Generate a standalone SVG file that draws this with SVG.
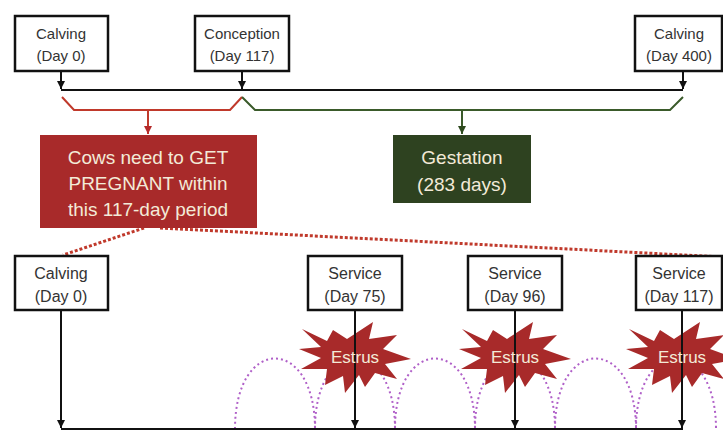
<svg xmlns="http://www.w3.org/2000/svg" width="723" height="431" viewBox="0 0 723 431">
<defs>
<style>
.box{fill:#fff;stroke:#111;stroke-width:2.5}
.bt{font-family:"Liberation Sans",Arial,sans-serif;fill:#333;text-anchor:middle}
.wt{font-family:"Liberation Sans",Arial,sans-serif;fill:#f3ead8;text-anchor:middle}
.ln{stroke:#111;stroke-width:2;fill:none}
.arc{stroke:#b060c8;stroke-width:2;fill:none;stroke-dasharray:2 3}
.star{fill:#a82a2a}
</style>
<marker id="ah" viewBox="0 0 8 8" refX="4" refY="8" markerWidth="8" markerHeight="8" markerUnits="userSpaceOnUse">
<path d="M0,0 L8,0 L4,8 Z" fill="#111"/>
</marker>
<marker id="ahr" viewBox="0 0 8 8" refX="4" refY="8" markerWidth="8" markerHeight="8" markerUnits="userSpaceOnUse">
<path d="M0,0 L8,0 L4,8 Z" fill="#b52a2a"/>
</marker>
<marker id="ahg" viewBox="0 0 8 8" refX="4" refY="8" markerWidth="8" markerHeight="8" markerUnits="userSpaceOnUse">
<path d="M0,0 L8,0 L4,8 Z" fill="#2e4a1e"/>
</marker>
<polygon id="burst" points="-53,-28 -28,-16 -22,-27 -8,-18 18,-35 14,-18 42,-22 28,-8 56,2 30,7 42,22 20,16 10,30 4,18 -10,36 -12,19 -30,28 -28,12 -54,12 -34,1 -56,-8 -34,-10"/>
</defs>

<g id="connectors">
<line class="ln" x1="61" y1="71" x2="61" y2="89" marker-end="url(#ah)"/>
<line class="ln" x1="242" y1="71" x2="242" y2="89" marker-end="url(#ah)"/>
<line class="ln" x1="683" y1="71" x2="683" y2="89" marker-end="url(#ah)"/>
<line class="ln" x1="61" y1="90" x2="683" y2="90"/>
<polyline points="62,97 74,110 230,110 242,97" fill="none" stroke="#c0392b" stroke-width="2"/>
<line x1="148" y1="110" x2="148" y2="134" stroke="#c0392b" stroke-width="2" marker-end="url(#ahr)"/>
<polyline points="242,97 255,110 670,110 683,97" fill="none" stroke="#3a5a2a" stroke-width="2"/>
<line x1="462" y1="110" x2="462" y2="134" stroke="#3a5a2a" stroke-width="2" marker-end="url(#ahg)"/>
<line x1="144" y1="228" x2="63" y2="255" stroke="#c0392b" stroke-width="3" stroke-dasharray="3 2"/>
<line x1="160" y1="228" x2="723" y2="257" stroke="#c0392b" stroke-width="3" stroke-dasharray="3 2"/>
<path class="arc" d="M235,429 C235,335 315,335 315,429"/>
<path class="arc" d="M315,429 C315,335 395,335 395,429"/>
<path class="arc" d="M395,429 C395,335 475,335 475,429"/>
<path class="arc" d="M475,429 C475,335 555,335 555,429"/>
<path class="arc" d="M555,429 C555,335 636,335 636,429"/>
<path class="arc" d="M636,429 C636,335 716,335 716,429"/>
</g>

<g id="estrus1"><use href="#burst" class="star" transform="translate(355,357)"/></g>
<g id="estrus2"><use href="#burst" class="star" transform="translate(515,357)"/></g>
<g id="estrus3"><use href="#burst" class="star" transform="translate(682,357)"/></g>

<g id="timeline">
<line class="ln" x1="61" y1="310" x2="61" y2="428" marker-end="url(#ah)"/>
<line class="ln" x1="355" y1="310" x2="355" y2="428" marker-end="url(#ah)"/>
<line class="ln" x1="515" y1="310" x2="515" y2="428" marker-end="url(#ah)"/>
<line class="ln" x1="682" y1="310" x2="682" y2="428" marker-end="url(#ah)"/>
<line class="ln" x1="61" y1="429" x2="683" y2="429"/>
</g>

<g id="estrus-labels">
<text class="wt" x="355" y="363" font-size="17">Estrus</text>
<text class="wt" x="515" y="363" font-size="17">Estrus</text>
<text class="wt" x="682" y="363" font-size="17">Estrus</text>
</g>

<g id="top-calving0">
<rect class="box" x="15" y="16" width="93" height="55"/>
<text class="bt" x="61" y="39" font-size="15">Calving</text>
<text class="bt" x="61" y="61" font-size="15">(Day 0)</text>
</g>
<g id="top-conception">
<rect class="box" x="195" y="16" width="94" height="55"/>
<text class="bt" x="242" y="39" font-size="15">Conception</text>
<text class="bt" x="242" y="61" font-size="15">(Day 117)</text>
</g>
<g id="top-calving400">
<rect class="box" x="635" y="16" width="87" height="55"/>
<text class="bt" x="679" y="39" font-size="15">Calving</text>
<text class="bt" x="679" y="61" font-size="15">(Day 400)</text>
</g>

<g id="pregnant">
<rect x="40" y="135" width="217" height="93" fill="#a82a2a"/>
<text class="wt" x="148" y="164" font-size="19">Cows need to GET</text>
<text class="wt" x="148" y="190" font-size="19">PREGNANT within</text>
<text class="wt" x="148" y="216" font-size="19">this 117-day period</text>
</g>
<g id="gestation">
<rect x="393" y="135" width="138" height="68" fill="#2e4220"/>
<text class="wt" x="462" y="164" font-size="19">Gestation</text>
<text class="wt" x="462" y="191" font-size="19">(283 days)</text>
</g>

<g id="bottom-calving0">
<rect class="box" x="15" y="256" width="93" height="54"/>
<text class="bt" x="61" y="279" font-size="16">Calving</text>
<text class="bt" x="61" y="302" font-size="16">(Day 0)</text>
</g>
<g id="service75">
<rect class="box" x="308" y="256" width="94" height="54"/>
<text class="bt" x="355" y="279" font-size="16">Service</text>
<text class="bt" x="355" y="302" font-size="16">(Day 75)</text>
</g>
<g id="service96">
<rect class="box" x="468" y="256" width="94" height="54"/>
<text class="bt" x="515" y="279" font-size="16">Service</text>
<text class="bt" x="515" y="302" font-size="16">(Day 96)</text>
</g>
<g id="service117">
<rect class="box" x="636" y="256" width="86" height="54"/>
<text class="bt" x="679" y="279" font-size="16">Service</text>
<text class="bt" x="679" y="302" font-size="16">(Day 117)</text>
</g>
</svg>
